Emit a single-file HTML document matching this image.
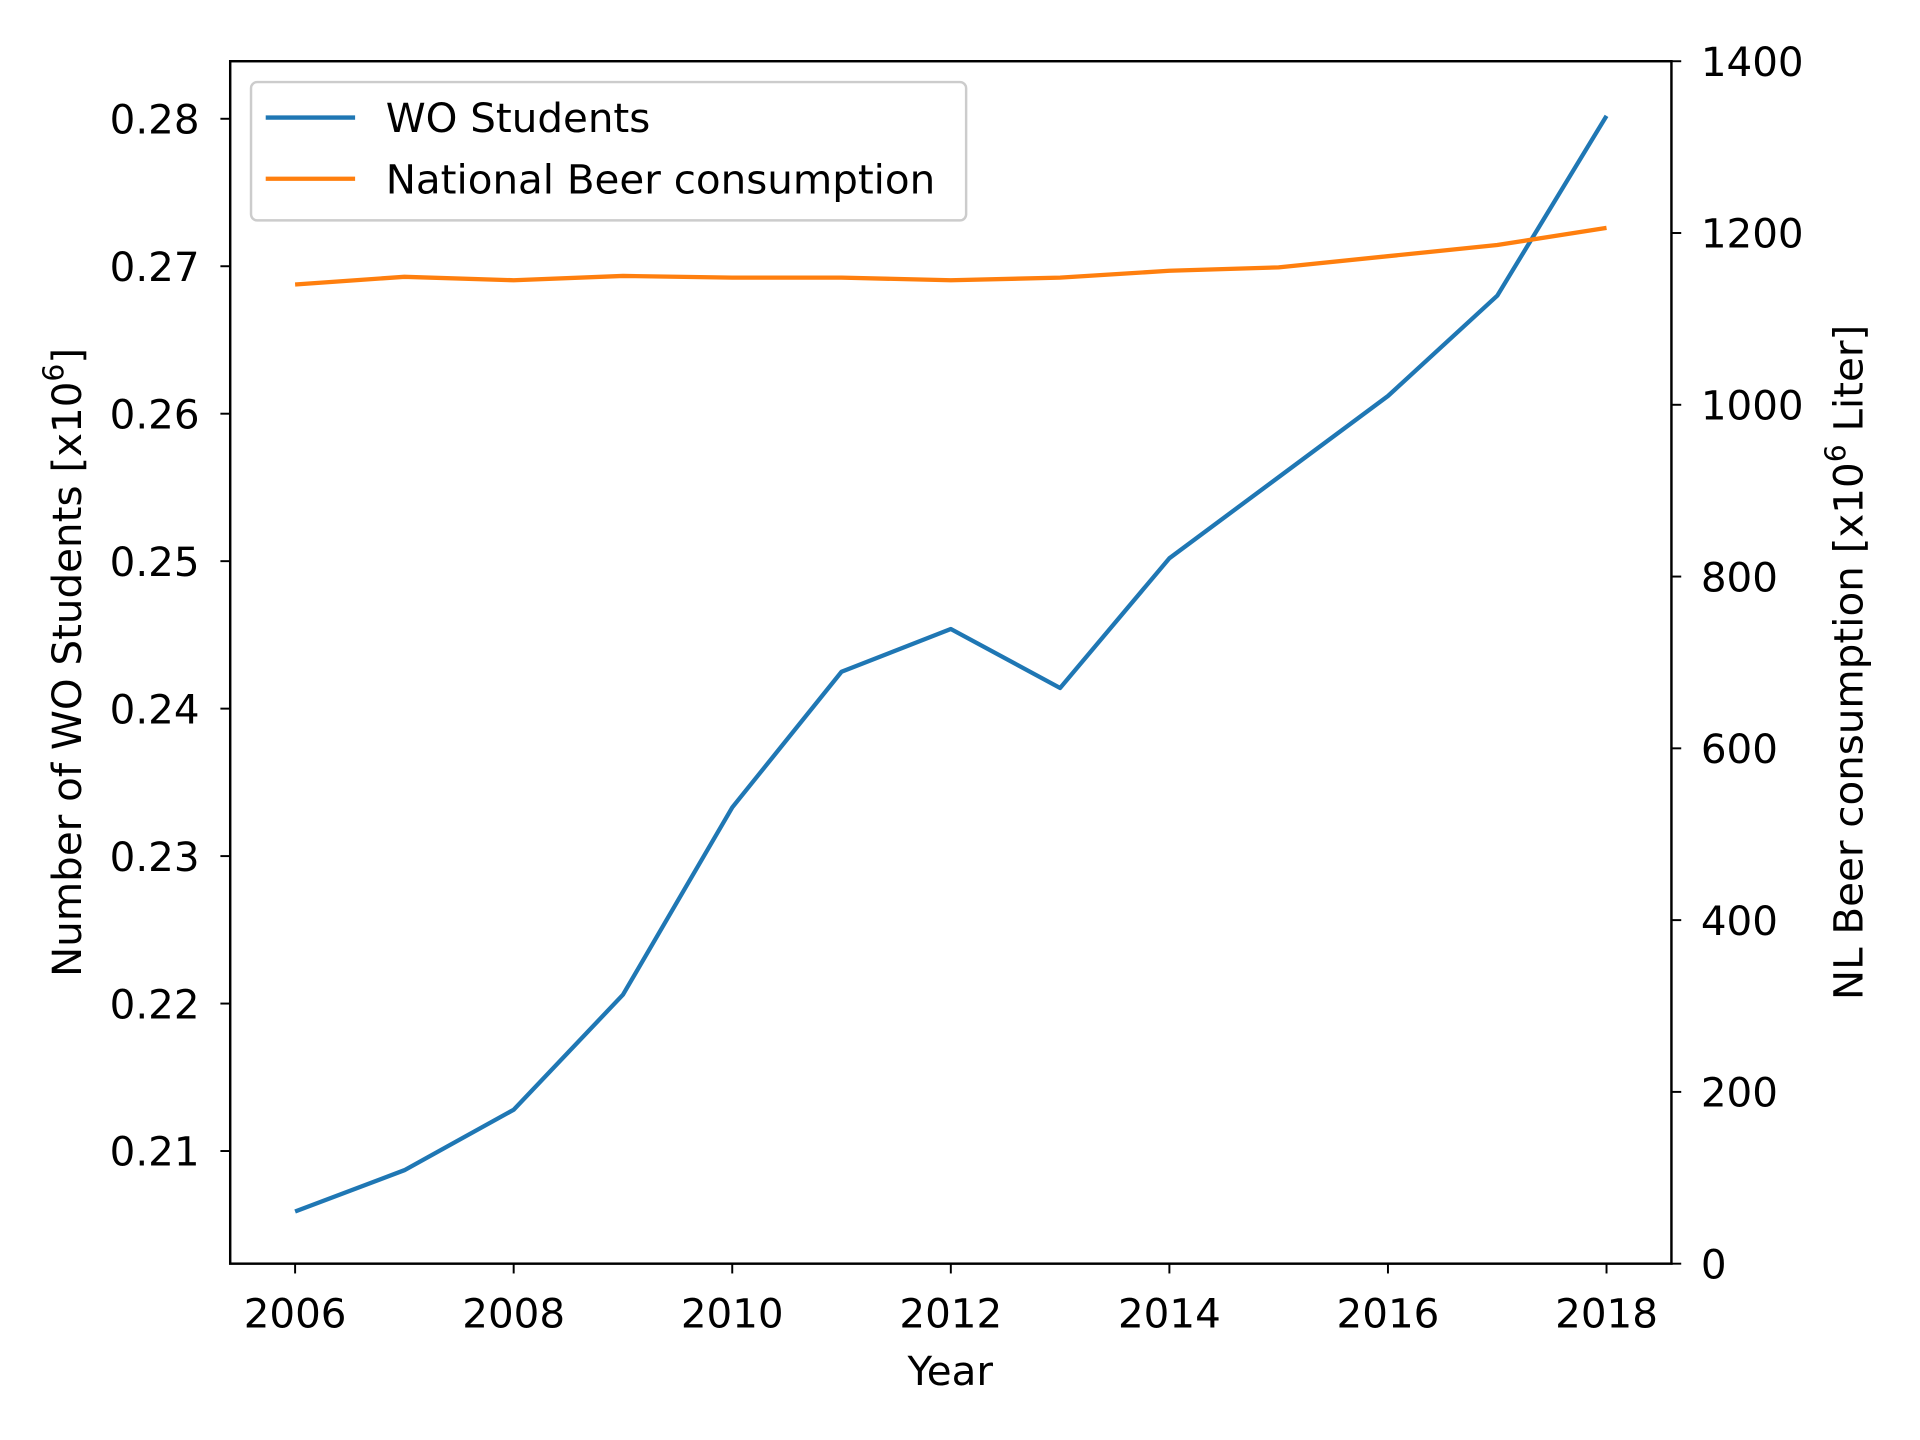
<!DOCTYPE html>
<html><head><meta charset="utf-8"><style>
html,body{margin:0;padding:0;background:#fff}
svg{display:block}
text{font-family:"DejaVu Sans","Liberation Sans",sans-serif;fill:#000}
</style></head><body>
<svg id="chart" width="1920" height="1440" viewBox="0 0 1568 1176" xmlns="http://www.w3.org/2000/svg"></svg>
<script>
const years=[2006,2007,2008,2009,2010,2011,2012,2013,2014,2015,2016,2017,2018];
const students=[0.2059,0.2087,0.2128,0.2206,0.2333,0.2425,0.2454,0.2414,0.2502,0.2557,0.2612,0.2680,0.2802];
const beer=[1140,1149,1145,1150,1148,1148,1145,1148,1156,1160,1173,1186,1206];
const xTicks=[2006,2008,2010,2012,2014,2016,2018];
const yLeftTicks=[0.21,0.22,0.23,0.24,0.25,0.26,0.27,0.28];
const yRightTicks=[0,200,400,600,800,1000,1200,1400];

const NS="http://www.w3.org/2000/svg";
const svg=document.getElementById('chart');
const L=188,R=1365,T=50,B=1032;
const xs=v=>241+(v-2006)*(1312-241)/12;
const yl=v=>940-(v-0.21)*(940-97)/0.07;
const yr=v=>B-v*(B-T)/1400;
function el(tag,attrs,txt){const e=document.createElementNS(NS,tag);for(const k in attrs)e.setAttribute(k,attrs[k]);if(txt!==undefined)e.textContent=txt;svg.appendChild(e);return e;}

let s=el('polyline',{points:years.map((y,i)=>xs(y)+','+yl(students[i])).join(' '),fill:'none',stroke:'#1f77b4','stroke-width':3.5,'stroke-linejoin':'round'});


let b=el('polyline',{points:years.map((y,i)=>xs(y)+','+yr(beer[i])).join(' '),fill:'none',stroke:'#ff7f0e','stroke-width':3.5,'stroke-linejoin':'round'});



let f=el('rect',{x:L,y:T,width:R-L,height:B-T,fill:'none',stroke:'#000','stroke-width':2});



xTicks.forEach(v=>{
  el('line',{x1:xs(v),x2:xs(v),y1:B,y2:B+8,stroke:'#000','stroke-width':1.6});
  let t=el('text',{x:xs(v),y:B+52,'text-anchor':'middle','font-size':33},String(v));
  
  
});
yLeftTicks.forEach(v=>{
  el('line',{x1:L-8,x2:L,y1:yl(v),y2:yl(v),stroke:'#000','stroke-width':1.6});
  let t=el('text',{x:L-25,y:yl(v)+12,'text-anchor':'end','font-size':33},v.toFixed(2));
  
  
});
yRightTicks.forEach(v=>{
  el('line',{x1:R,x2:R+8,y1:yr(v),y2:yr(v),stroke:'#000','stroke-width':1.6});
  let t=el('text',{x:R+24,y:yr(v)+12,'text-anchor':'start','font-size':33},String(v));
  
  
});
</script>
<svg style="position:absolute;left:0;top:0" width="1920" height="1440" viewBox="0 0 1568 1176" xmlns="http://www.w3.org/2000/svg">
<text x="776" y="1131" text-anchor="middle" font-size="33">Year</text>
<text transform="translate(66,541) rotate(-90)" text-anchor="middle" font-size="33">Number of WO Students [x10<tspan font-size="23" dy="-14">6</tspan><tspan dy="14">]</tspan></text>
<text transform="translate(1521,541) rotate(-90)" text-anchor="middle" font-size="33">NL Beer consumption [x10<tspan font-size="23" dy="-14">6</tspan><tspan dy="14"> Liter]</tspan></text>
<g>
<rect x="205" y="67" width="584" height="113" rx="5" fill="#fff" fill-opacity="0.8" stroke="#ccc" stroke-width="2"/>
<line x1="217" x2="290" y1="96" y2="96" stroke="#1f77b4" stroke-width="3.5"/>
<text x="315" y="108" font-size="33">WO Students</text>
<line x1="217" x2="290" y1="146" y2="146" stroke="#ff7f0e" stroke-width="3.5"/>
<text x="315" y="158" font-size="33">National Beer consumption</text>
</g>
</svg>
</body></html>
